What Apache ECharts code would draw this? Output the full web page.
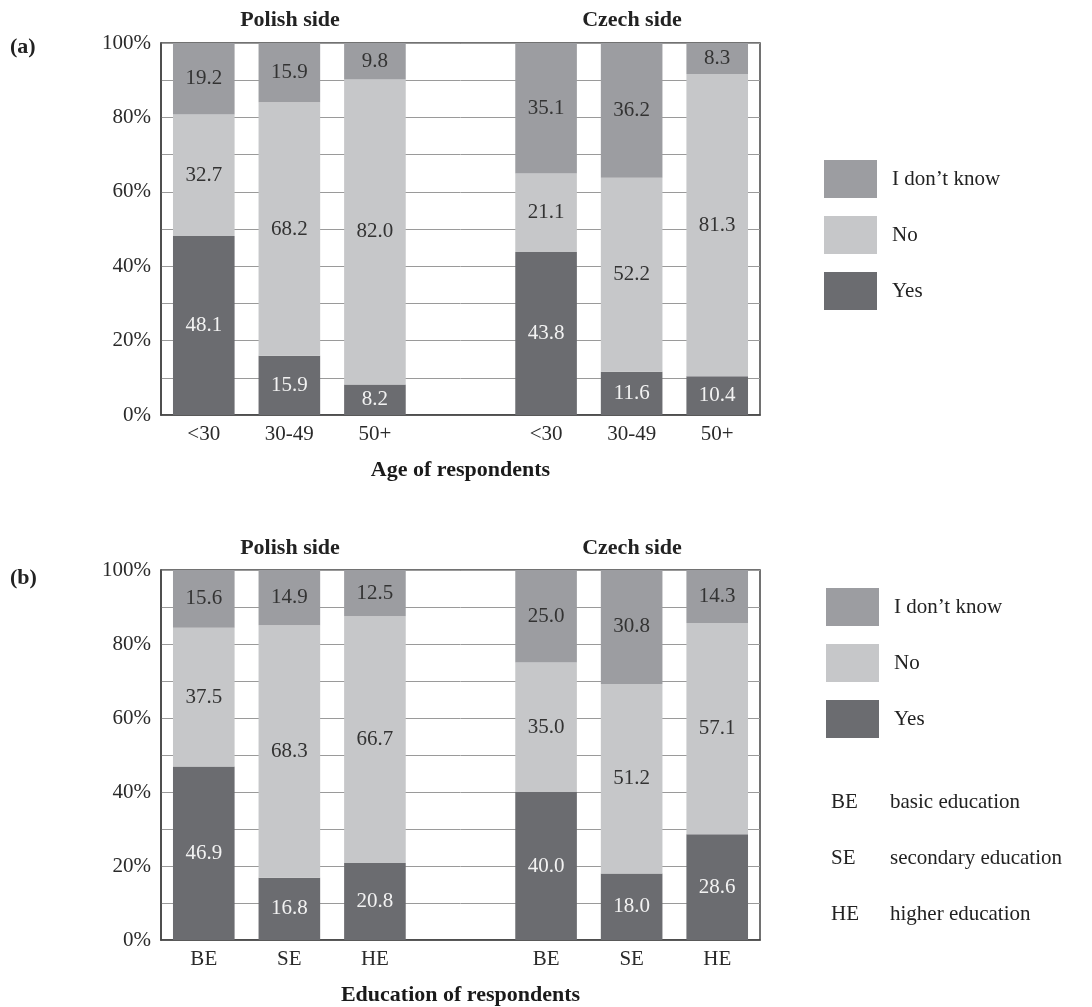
<!DOCTYPE html>
<html>
<head>
<meta charset="utf-8">
<script src="https://cdn.jsdelivr.net/npm/echarts@6/dist/echarts.min.js"></script>
<style>
  html, body { margin: 0; padding: 0; background: #fff; }
  #chart { width: 1092px; height: 1007px; }
</style>
</head>
<body>
<div id="chart"></div>
<script>
// categories (empty slot separates Polish side and Czech side)
const ageCats = ['<30', '30-49', '50+', '', '<30', '30-49', '50+']
const eduCats = ['BE', 'SE', 'HE', '', 'BE', 'SE', 'HE']

// (a) age of respondents
const ageYes = [48.1, 15.9, 8.2, '-', 43.8, 11.6, 10.4]
const ageNo = [32.7, 68.2, 82.0, '-', 21.1, 52.2, 81.3]
const ageDk = [19.2, 15.9, 9.8, '-', 35.1, 36.2, 8.3]

// (b) education of respondents
const eduYes = [46.9, 16.8, 20.8, '-', 40.0, 18.0, 28.6]
const eduNo = [37.5, 68.3, 66.7, '-', 35.0, 51.2, 57.1]
const eduDk = [15.6, 14.9, 12.5, '-', 25.0, 30.8, 14.3]

const yTickLabels = ['0%', '20%', '40%', '60%', '80%', '100%']
const eduNotes = [['BE', 'basic education'], ['SE', 'secondary education'], ['HE', 'higher education']]

const FONT = '"Liberation Serif", "DejaVu Serif", serif'
const colors = { dk: '#9c9da1', no: '#c6c7c9', yes: '#6b6c70' }

const chart = echarts.init(document.getElementById('chart'))

function yAxis(idx) {
    return {
        gridIndex: idx, type: 'value', min: 0, max: 100, interval: 10,
        axisLine: { show: true, lineStyle: { color: '#444', width: 1.5 } },
        axisTick: { show: false },
        splitLine: { lineStyle: { color: '#9a9a9a', width: 1 } },
        axisLabel: {
            color: '#2a2a2a', fontFamily: FONT, fontSize: 21, margin: 10,
            formatter: v => v % 20 === 0 ? yTickLabels[v / 20] : ''
        }
    }
}

function xAxis(idx, cats, name) {
    return {
        gridIndex: idx, type: 'category', data: cats,
        axisLine: { lineStyle: { color: '#444', width: 1.5 } },
        axisTick: { show: false },
        axisLabel: { color: '#2a2a2a', fontFamily: FONT, fontSize: 21, margin: 9, interval: 0 },
        name: name, nameLocation: 'middle', nameGap: 44,
        nameTextStyle: { color: '#1a1a1a', fontFamily: FONT, fontSize: 22, fontWeight: 'bold' }
    }
}

function bar(name, data, idx, color, labelColor) {
    return {
        name: name, type: 'bar', stack: 'g' + idx, data: data,
        xAxisIndex: idx, yAxisIndex: idx, barWidth: '72%',
        itemStyle: { color: color },
        label: {
            show: true, position: 'inside', color: labelColor,
            fontFamily: FONT, fontSize: 21,
            formatter: p => Number(p.value).toFixed(1)
        },
        emphasis: { disabled: true }
    }
}

function legend(top, left) {
    return {
        orient: 'vertical', top: top, left: left,
        data: ['I don\u2019t know', 'No', 'Yes'],
        itemWidth: 53, itemHeight: 38, itemGap: 18,
        icon: 'rect', selectedMode: false,
        textStyle: { color: '#222', fontFamily: FONT, fontSize: 21, padding: [0, 0, 0, 10] }
    }
}

function text(x, y, str, opts = {}) {
    return {
        type: 'text', x: x, y: y,
        style: Object.assign({
            text: str, fill: '#222', font: '21px ' + FONT,
            textAlign: 'left', textVerticalAlign: 'middle'
        }, opts)
    }
}

const BOLD = 'bold 22px ' + FONT
const graphics = [
    text(10, 47, '(a)', { font: BOLD }),
    text(10, 578, '(b)', { font: BOLD }),
    text(290, 20, 'Polish side', { font: BOLD, textAlign: 'center' }),
    text(632, 20, 'Czech side', { font: BOLD, textAlign: 'center' }),
    text(290, 548, 'Polish side', { font: BOLD, textAlign: 'center' }),
    text(632, 548, 'Czech side', { font: BOLD, textAlign: 'center' })
]
eduNotes.forEach((n, i) => {
    graphics.push(text(831, 802 + i * 56, n[0]))
    graphics.push(text(890, 802 + i * 56, n[1]))
})

chart.setOption({
    backgroundColor: '#fff',
    animation: false,
    grid: [
        { left: 161, top: 43, width: 599, height: 372, show: true, borderColor: '#444', borderWidth: 1.5 },
        { left: 161, top: 570, width: 599, height: 373, show: true, borderColor: '#444', borderWidth: 1.5 }
    ],
    xAxis: [xAxis(0, ageCats, 'Age of respondents'), xAxis(1, eduCats, 'Education of respondents')],
    yAxis: [yAxis(0), yAxis(1)],
    legend: [legend(155, 819), legend(583, 821)],
    series: [
        bar('Yes', ageYes, 0, colors.yes, '#f2f2f2'),
        bar('No', ageNo, 0, colors.no, '#333'),
        bar('I don\u2019t know', ageDk, 0, colors.dk, '#333'),
        bar('Yes', eduYes, 1, colors.yes, '#f2f2f2'),
        bar('No', eduNo, 1, colors.no, '#333'),
        bar('I don\u2019t know', eduDk, 1, colors.dk, '#333')
    ],
    graphic: graphics
})
</script>
</body>
</html>
